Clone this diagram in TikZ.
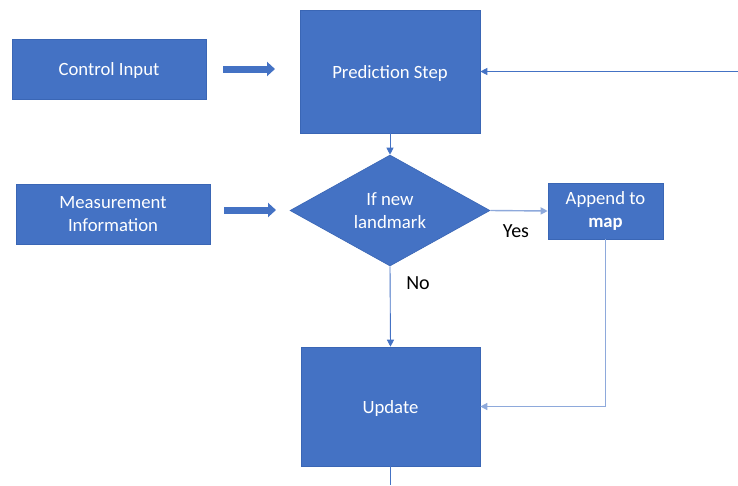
\documentclass[tikz,border=0pt]{standalone}
\usepackage{fontspec}
\setmainfont{Carlito}
\usetikzlibrary{shapes.geometric,arrows.meta}
\definecolor{boxblue}{HTML}{4472C4}
\definecolor{boxedge}{HTML}{3A66B5}
\definecolor{lineblue}{HTML}{4472C4}
\definecolor{lightline}{HTML}{8EA9DB}
\newcommand{\lowertext}[1]{\raisebox{-2pt}[\height][\depth]{#1}}
\tikzset{
  blockbox/.style={rectangle, fill=boxblue, draw=boxedge, line width=0.6pt, text=white,
    font=\fontsize{18.7}{22.5}\selectfont, align=center, inner sep=0pt},
  decision/.style={diamond, fill=boxblue, draw=boxedge, line width=0.6pt, text=white,
    font=\fontsize{18.8}{22.5}\selectfont, align=center, inner sep=0pt},
  conn/.style={draw=lineblue, line width=0.9pt, -{Triangle[length=7pt,width=7pt]}},
  lightconn/.style={draw=lightline, line width=1.4pt, -{Triangle[length=7pt,width=7pt]}, color=lightline},
  fatarrow/.style={draw=boxblue, line width=7pt, -{Triangle[length=8pt,width=14pt]}},
  lbl/.style={text=black, font=\fontsize{20}{24}\selectfont, inner sep=0pt}
}
\begin{document}
\begin{tikzpicture}[x=1pt,y=-1pt]
\useasboundingbox (0,0) rectangle (738,485);
\node[blockbox, minimum width=194pt, minimum height=60pt] (ctrl) at (109,69) {\lowertext{Control Input}};
\node[blockbox, minimum width=180pt, minimum height=123pt] (pred) at (390,71.5) {\lowertext{Prediction Step}};
\node[blockbox, minimum width=194pt, minimum height=60pt] (meas) at (113,214) {Measurement\\Information};
\node[decision, minimum width=200pt, minimum height=111pt] (dia) at (390,210.5) {If new\\landmark};
\node[blockbox, minimum width=115pt, minimum height=56pt] (app) at (605.5,211) {Append to\\\textbf{map}};
\node[blockbox, minimum width=179pt, minimum height=119pt] (upd) at (390.5,406.5) {\lowertext{Update}};
\node[lbl] (yes) at (516,231) {Yes};
\node[lbl] (no) at (418,283) {No};
\coordinate (c1) at (223,69);
\coordinate (c2) at (275,69);
\coordinate (m1) at (224,210);
\coordinate (m2) at (276,210);
\coordinate (rin) at (738,71.5);
\coordinate (bot) at (390.5,485);
\draw[fatarrow] (c1) -- (c2);
\draw[fatarrow] (m1) -- (m2);
\draw[conn] (rin) -- (pred.east);
\draw[conn] (pred.south) -- (dia.north);
\draw[conn] (dia.south) -- (upd.north);
\draw[lightconn] (dia.east) -- (app.west);
\draw[lightconn] (app.south) |- (upd.east);
\draw[draw=lineblue, line width=0.9pt] (upd.south) -- (bot);
\end{tikzpicture}
\end{document}
